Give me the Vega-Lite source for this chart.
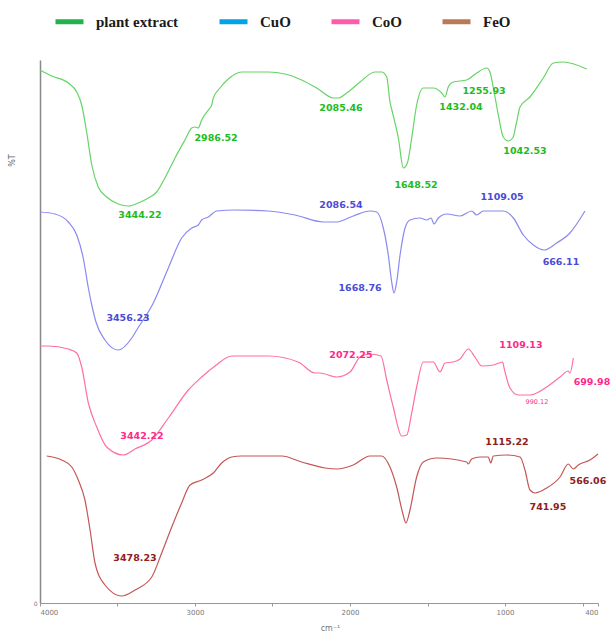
{
  "$schema": "https://vega.github.io/schema/vega-lite/v6.json",
  "width": 558,
  "height": 543,
  "autosize": "none",
  "padding": {"left": 40, "top": 60, "right": 12, "bottom": 31},
  "background": "white",
  "config": {"view": {"stroke": null}, "axis": {"grid": false}},
  "datasets": {
    "curves": [
      {"s":"plant extract","w":4000,"t":533},{"s":"plant extract","w":3925,"t":527},{"s":"plant extract","w":3817,"t":520},{"s":"plant extract","w":3763,"t":511},{"s":"plant extract","w":3731,"t":498},{"s":"plant extract","w":3699,"t":471},{"s":"plant extract","w":3666,"t":438},{"s":"plant extract","w":3624,"t":416},{"s":"plant extract","w":3570,"t":406},{"s":"plant extract","w":3495,"t":399},{"s":"plant extract","w":3430,"t":397},{"s":"plant extract","w":3366,"t":400},{"s":"plant extract","w":3301,"t":405},{"s":"plant extract","w":3247,"t":411},{"s":"plant extract","w":3194,"t":425},{"s":"plant extract","w":3129,"t":445},{"s":"plant extract","w":3065,"t":463},{"s":"plant extract","w":3021,"t":475},{"s":"plant extract","w":3000,"t":476},{"s":"plant extract","w":2979,"t":475},{"s":"plant extract","w":2957,"t":483},{"s":"plant extract","w":2914,"t":493},{"s":"plant extract","w":2892,"t":498},{"s":"plant extract","w":2882,"t":505},{"s":"plant extract","w":2839,"t":515},{"s":"plant extract","w":2785,"t":524},{"s":"plant extract","w":2699,"t":531},{"s":"plant extract","w":2527,"t":531},{"s":"plant extract","w":2419,"t":529},{"s":"plant extract","w":2312,"t":523},{"s":"plant extract","w":2205,"t":514},{"s":"plant extract","w":2108,"t":505},{"s":"plant extract","w":2075,"t":505},{"s":"plant extract","w":2021,"t":510},{"s":"plant extract","w":1935,"t":521},{"s":"plant extract","w":1839,"t":531},{"s":"plant extract","w":1796,"t":531},{"s":"plant extract","w":1763,"t":526},{"s":"plant extract","w":1742,"t":501},{"s":"plant extract","w":1725,"t":490},{"s":"plant extract","w":1688,"t":465},{"s":"plant extract","w":1656,"t":435},{"s":"plant extract","w":1630,"t":440},{"s":"plant extract","w":1602,"t":465},{"s":"plant extract","w":1570,"t":498},{"s":"plant extract","w":1527,"t":515},{"s":"plant extract","w":1463,"t":515},{"s":"plant extract","w":1408,"t":510},{"s":"plant extract","w":1387,"t":506},{"s":"plant extract","w":1366,"t":516},{"s":"plant extract","w":1334,"t":521},{"s":"plant extract","w":1247,"t":523},{"s":"plant extract","w":1183,"t":530},{"s":"plant extract","w":1118,"t":535},{"s":"plant extract","w":1097,"t":531},{"s":"plant extract","w":1075,"t":515},{"s":"plant extract","w":1043,"t":488},{"s":"plant extract","w":1011,"t":466},{"s":"plant extract","w":979,"t":462},{"s":"plant extract","w":950,"t":465},{"s":"plant extract","w":925,"t":481},{"s":"plant extract","w":903,"t":496},{"s":"plant extract","w":839,"t":506},{"s":"plant extract","w":753,"t":525},{"s":"plant extract","w":688,"t":540},{"s":"plant extract","w":624,"t":541},{"s":"plant extract","w":473,"t":534},
      {"s":"CuO","w":4000,"t":391},{"s":"CuO","w":3903,"t":389},{"s":"CuO","w":3817,"t":381},{"s":"CuO","w":3763,"t":368},{"s":"CuO","w":3721,"t":345},{"s":"CuO","w":3688,"t":315},{"s":"CuO","w":3666,"t":298},{"s":"CuO","w":3639,"t":281},{"s":"CuO","w":3581,"t":263},{"s":"CuO","w":3495,"t":253},{"s":"CuO","w":3408,"t":265},{"s":"CuO","w":3376,"t":273},{"s":"CuO","w":3269,"t":300},{"s":"CuO","w":3172,"t":335},{"s":"CuO","w":3086,"t":365},{"s":"CuO","w":3021,"t":375},{"s":"CuO","w":2979,"t":378},{"s":"CuO","w":2957,"t":383},{"s":"CuO","w":2914,"t":386},{"s":"CuO","w":2860,"t":392},{"s":"CuO","w":2742,"t":393},{"s":"CuO","w":2527,"t":392},{"s":"CuO","w":2355,"t":388},{"s":"CuO","w":2172,"t":381},{"s":"CuO","w":2086,"t":381},{"s":"CuO","w":1979,"t":387},{"s":"CuO","w":1871,"t":392},{"s":"CuO","w":1828,"t":391},{"s":"CuO","w":1785,"t":375},{"s":"CuO","w":1753,"t":348},{"s":"CuO","w":1731,"t":321},{"s":"CuO","w":1716,"t":310},{"s":"CuO","w":1699,"t":321},{"s":"CuO","w":1677,"t":348},{"s":"CuO","w":1645,"t":375},{"s":"CuO","w":1613,"t":383},{"s":"CuO","w":1548,"t":385},{"s":"CuO","w":1505,"t":383},{"s":"CuO","w":1477,"t":385},{"s":"CuO","w":1458,"t":379},{"s":"CuO","w":1430,"t":385},{"s":"CuO","w":1376,"t":389},{"s":"CuO","w":1290,"t":387},{"s":"CuO","w":1215,"t":392},{"s":"CuO","w":1183,"t":388},{"s":"CuO","w":1140,"t":392},{"s":"CuO","w":1011,"t":392},{"s":"CuO","w":946,"t":385},{"s":"CuO","w":882,"t":368},{"s":"CuO","w":817,"t":358},{"s":"CuO","w":748,"t":353},{"s":"CuO","w":667,"t":360},{"s":"CuO","w":581,"t":370},{"s":"CuO","w":484,"t":392},
      {"s":"CoO","w":4000,"t":257},{"s":"CoO","w":3946,"t":257},{"s":"CoO","w":3817,"t":254},{"s":"CoO","w":3763,"t":250},{"s":"CoO","w":3731,"t":236},{"s":"CoO","w":3688,"t":200},{"s":"CoO","w":3634,"t":176},{"s":"CoO","w":3570,"t":156},{"s":"CoO","w":3463,"t":148},{"s":"CoO","w":3387,"t":154},{"s":"CoO","w":3279,"t":163},{"s":"CoO","w":3172,"t":185},{"s":"CoO","w":3043,"t":213},{"s":"CoO","w":2957,"t":226},{"s":"CoO","w":2871,"t":237},{"s":"CoO","w":2763,"t":247},{"s":"CoO","w":2527,"t":247},{"s":"CoO","w":2334,"t":241},{"s":"CoO","w":2226,"t":230},{"s":"CoO","w":2194,"t":230},{"s":"CoO","w":2086,"t":226},{"s":"CoO","w":2000,"t":231},{"s":"CoO","w":1935,"t":246},{"s":"CoO","w":1871,"t":249},{"s":"CoO","w":1800,"t":247},{"s":"CoO","w":1763,"t":223},{"s":"CoO","w":1721,"t":196},{"s":"CoO","w":1666,"t":167},{"s":"CoO","w":1634,"t":168},{"s":"CoO","w":1602,"t":190},{"s":"CoO","w":1570,"t":216},{"s":"CoO","w":1527,"t":241},{"s":"CoO","w":1463,"t":241},{"s":"CoO","w":1419,"t":231},{"s":"CoO","w":1387,"t":240},{"s":"CoO","w":1334,"t":241},{"s":"CoO","w":1290,"t":244},{"s":"CoO","w":1237,"t":254},{"s":"CoO","w":1194,"t":246},{"s":"CoO","w":1150,"t":237},{"s":"CoO","w":1075,"t":238},{"s":"CoO","w":1015,"t":241},{"s":"CoO","w":1006,"t":235},{"s":"CoO","w":968,"t":215},{"s":"CoO","w":914,"t":208},{"s":"CoO","w":839,"t":208},{"s":"CoO","w":731,"t":216},{"s":"CoO","w":645,"t":226},{"s":"CoO","w":592,"t":232},{"s":"CoO","w":581,"t":230},{"s":"CoO","w":559,"t":245},
      {"s":"FeO","w":3957,"t":147},{"s":"FeO","w":3860,"t":143},{"s":"FeO","w":3795,"t":136},{"s":"FeO","w":3753,"t":123},{"s":"FeO","w":3710,"t":103},{"s":"FeO","w":3677,"t":73},{"s":"FeO","w":3645,"t":40},{"s":"FeO","w":3581,"t":18},{"s":"FeO","w":3473,"t":7},{"s":"FeO","w":3387,"t":13},{"s":"FeO","w":3279,"t":26},{"s":"FeO","w":3215,"t":50},{"s":"FeO","w":3150,"t":76},{"s":"FeO","w":3086,"t":100},{"s":"FeO","w":3032,"t":118},{"s":"FeO","w":2957,"t":123},{"s":"FeO","w":2882,"t":130},{"s":"FeO","w":2828,"t":140},{"s":"FeO","w":2763,"t":146},{"s":"FeO","w":2699,"t":147},{"s":"FeO","w":2441,"t":147},{"s":"FeO","w":2312,"t":141},{"s":"FeO","w":2161,"t":135},{"s":"FeO","w":2086,"t":134},{"s":"FeO","w":1979,"t":138},{"s":"FeO","w":1871,"t":147},{"s":"FeO","w":1796,"t":147},{"s":"FeO","w":1742,"t":136},{"s":"FeO","w":1699,"t":116},{"s":"FeO","w":1660,"t":90},{"s":"FeO","w":1639,"t":80},{"s":"FeO","w":1613,"t":93},{"s":"FeO","w":1570,"t":126},{"s":"FeO","w":1527,"t":141},{"s":"FeO","w":1441,"t":145},{"s":"FeO","w":1247,"t":141},{"s":"FeO","w":1237,"t":139},{"s":"FeO","w":1215,"t":144},{"s":"FeO","w":1161,"t":146},{"s":"FeO","w":1108,"t":146},{"s":"FeO","w":1092,"t":140},{"s":"FeO","w":1075,"t":147},{"s":"FeO","w":989,"t":148},{"s":"FeO","w":903,"t":146},{"s":"FeO","w":871,"t":133},{"s":"FeO","w":839,"t":113},{"s":"FeO","w":806,"t":110},{"s":"FeO","w":731,"t":115},{"s":"FeO","w":645,"t":126},{"s":"FeO","w":592,"t":139},{"s":"FeO","w":559,"t":134},{"s":"FeO","w":527,"t":138},{"s":"FeO","w":452,"t":143},{"s":"FeO","w":400,"t":149}
    ],
    "labels": [
      {"s":"plant extract","w":2864,"t":465,"label":"2986.52"},
      {"s":"plant extract","w":3355,"t":388,"label":"3444.22"},
      {"s":"plant extract","w":2058,"t":495,"label":"2085.46"},
      {"s":"plant extract","w":1574,"t":418,"label":"1648.52"},
      {"s":"plant extract","w":1284,"t":496,"label":"1432.04"},
      {"s":"plant extract","w":1135,"t":512,"label":"1255.93"},
      {"s":"plant extract","w":871,"t":452,"label":"1042.53"},
      {"s":"CuO","w":2058,"t":398,"label":"2086.54"},
      {"s":"CuO","w":1019,"t":406,"label":"1109.05"},
      {"s":"CuO","w":1935,"t":315,"label":"1668.76"},
      {"s":"CuO","w":639,"t":341,"label":"666.11"},
      {"s":"CuO","w":3432,"t":285,"label":"3456.23"},
      {"s":"CoO","w":3342,"t":167,"label":"3442.22"},
      {"s":"CoO","w":1994,"t":248,"label":"2072.25"},
      {"s":"CoO","w":897,"t":258,"label":"1109.13"},
      {"s":"CoO","w":439,"t":221,"label":"699.98"},
      {"s":"FeO","w":3387,"t":45,"label":"3478.23"},
      {"s":"FeO","w":987,"t":161,"label":"1115.22"},
      {"s":"FeO","w":723,"t":96,"label":"741.95"},
      {"s":"FeO","w":465,"t":122,"label":"566.06"}
    ],
    "minor": [
      {"s":"CoO","w":794,"t":201,"label":"990.12"}
    ],
    "keys": [
      {"k":"plant extract"},{"k":"CuO"},{"k":"CoO"},{"k":"FeO"}
    ]
  },
  "layer": [
    {
      "data": {"name": "curves"},
      "mark": {"type": "line", "strokeWidth": 1.2, "interpolate": "monotone"},
      "encoding": {
        "x": {"field": "w", "type": "quantitative",
          "scale": {"domain": [4000, 400], "nice": false, "zero": false},
          "axis": {"values": [4000,3500,3000,2500,2000,1500,1000,500,400], "format": "d",
            "domainColor": "#999", "tickColor": "#999", "tickSize": 3,
            "labelFont": "DejaVu Sans", "labelFontSize": 7, "labelColor": "#777",
            "title": "cm⁻¹", "titleFont": "DejaVu Sans", "titleFontSize": 8, "titleFontWeight": "normal", "titleColor": "#777", "titlePadding": 9, "titleX": 290}},
        "y": {"field": "t", "type": "quantitative",
          "scale": {"domain": [0, 543], "nice": false},
          "axis": {"values": [0], "tickSize": 0, "labelFont": "DejaVu Sans", "labelFontSize": 6, "labelColor": "#777", "labelPadding": 3,
            "domainColor": "#888", "domainWidth": 1.5,
            "title": "%T", "titleFont": "DejaVu Sans", "titleFontSize": 8, "titleFontWeight": "normal", "titleColor": "#666", "titleX": -24, "titleY": 100}},
        "stroke": {"field": "s", "type": "nominal",
          "scale": {"range": ["#ff6fa3","#8a8af0","#c45656","#66d466"]},
          "legend": null},
        "detail": {"field": "s"}
      }
    },
    {
      "data": {"name": "labels"},
      "mark": {"type": "text", "font": "DejaVu Sans", "fontWeight": "bold", "fontSize": 9.5, "align": "center", "baseline": "middle"},
      "encoding": {
        "x": {"field": "w", "type": "quantitative"},
        "y": {"field": "t", "type": "quantitative"},
        "text": {"field": "label"},
        "fill": {"field": "s", "type": "nominal",
          "scale": {"range": ["#ff2a8a","#4b4bd6","#8e2020","#22bb22"]},
          "legend": null}
      }
    },
    {
      "data": {"name": "minor"},
      "mark": {"type": "text", "font": "DejaVu Sans", "fontSize": 6.5, "align": "center", "baseline": "middle", "fill": "#ff2a8a"},
      "encoding": {
        "x": {"field": "w", "type": "quantitative"},
        "y": {"field": "t", "type": "quantitative"},
        "text": {"field": "label"}
      }
    },
    {
      "data": {"name": "keys"},
      "mark": {"type": "point", "size": 0, "filled": false},
      "encoding": {
        "color": {"field": "k", "type": "nominal",
          "sort": ["plant extract","CuO","CoO","FeO"],
          "scale": {"domain": ["plant extract","CuO","CoO","FeO"], "range": ["#22b14c","#00a2e8","#ff5aac","#b97a57"]},
          "legend": {"title": null, "orient": "none", "legendX": 13, "legendY": -55, "direction": "horizontal",
            "symbolType": "stroke", "symbolSize": 784, "symbolStrokeWidth": 5, "symbolOpacity": 1,
            "labelFont": "Liberation Serif", "labelFontWeight": "bold", "labelFontSize": 15, "labelColor": "#1a1a1a",
            "labelOffset": 10, "columnPadding": 30, "padding": 0, "labelLimit": 200}}
      }
    }
  ]
}
